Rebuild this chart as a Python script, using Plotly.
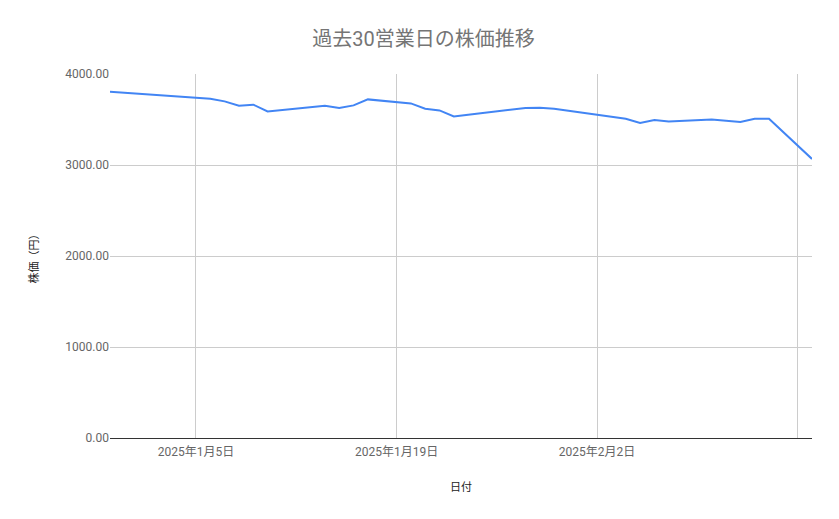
import plotly.graph_objects as go
import pandas as pd

TITLE = '過去30営業日の株価推移'
X_TITLE = '日付'
Y_TITLE = '株価（円）'

dates = [
    '2024-12-30',
    '2025-01-06', '2025-01-07', '2025-01-08', '2025-01-09', '2025-01-10',
    '2025-01-14', '2025-01-15', '2025-01-16', '2025-01-17',
    '2025-01-20', '2025-01-21', '2025-01-22', '2025-01-23', '2025-01-24',
    '2025-01-27', '2025-01-28', '2025-01-29', '2025-01-30', '2025-01-31',
    '2025-02-03', '2025-02-04', '2025-02-05', '2025-02-06', '2025-02-07',
    '2025-02-10', '2025-02-12', '2025-02-13', '2025-02-14',
    '2025-02-17',
]
prices = [
    3805,
    3729, 3699, 3652, 3663, 3589,
    3652, 3626, 3655, 3721,
    3677, 3619, 3600, 3534, 3553,
    3608, 3626, 3630, 3619, 3597,
    3534, 3509, 3461, 3494, 3479,
    3501, 3472, 3509, 3509,
    3066,
]

# gridlines every two weeks; the last one has no label (it would run off the edge)
tick_dates = ['2025-01-05', '2025-01-19', '2025-02-02', '2025-02-16']
tick_labels = ['2025年1月5日', '2025年1月19日', '2025年2月2日', '']

df = pd.DataFrame({'date': pd.to_datetime(dates), 'price': prices})

FONT = 'Roboto, "Noto Sans CJK JP", sans-serif'

fig = go.Figure(
    go.Scatter(
        x=df['date'],
        y=df['price'],
        mode='lines',
        line=dict(color='#4285F4', width=2),
        showlegend=False,
    )
)
# page body has an 8px margin, so the figure is 8px smaller than the window
fig.update_layout(
    width=831,
    height=511,
    paper_bgcolor='white',
    plot_bgcolor='white',
    margin=dict(l=102, r=27, t=66, b=81),
    font=dict(family=FONT, color='#666666'),
    title=dict(text=TITLE, x=0.5, xanchor='center', y=0.94, yanchor='middle',
               font=dict(size=20, color='#757575')),
    xaxis=dict(
        range=['2024-12-30', '2025-02-17'],
        tickvals=pd.to_datetime(tick_dates),
        ticktext=tick_labels,
        tickfont=dict(size=12, color='#666666'),
        ticklabelstandoff=3,
        showgrid=True,
        gridcolor='#cccccc',
        showline=True,
        linecolor='#333333',
        linewidth=1,
        ticks='',
        title=dict(text=X_TITLE, font=dict(size=11, color='#222222'), standoff=24),
    ),
    yaxis=dict(
        range=[0, 4000],
        dtick=1000,
        tickformat='.2f',
        tickfont=dict(size=12, color='#666666'),
        showgrid=True,
        gridcolor='#cccccc',
        zeroline=False,
        ticks='',
        title=dict(text=Y_TITLE, font=dict(size=11, color='#222222'), standoff=24),
    ),
)
fig.write_html('out.html')
